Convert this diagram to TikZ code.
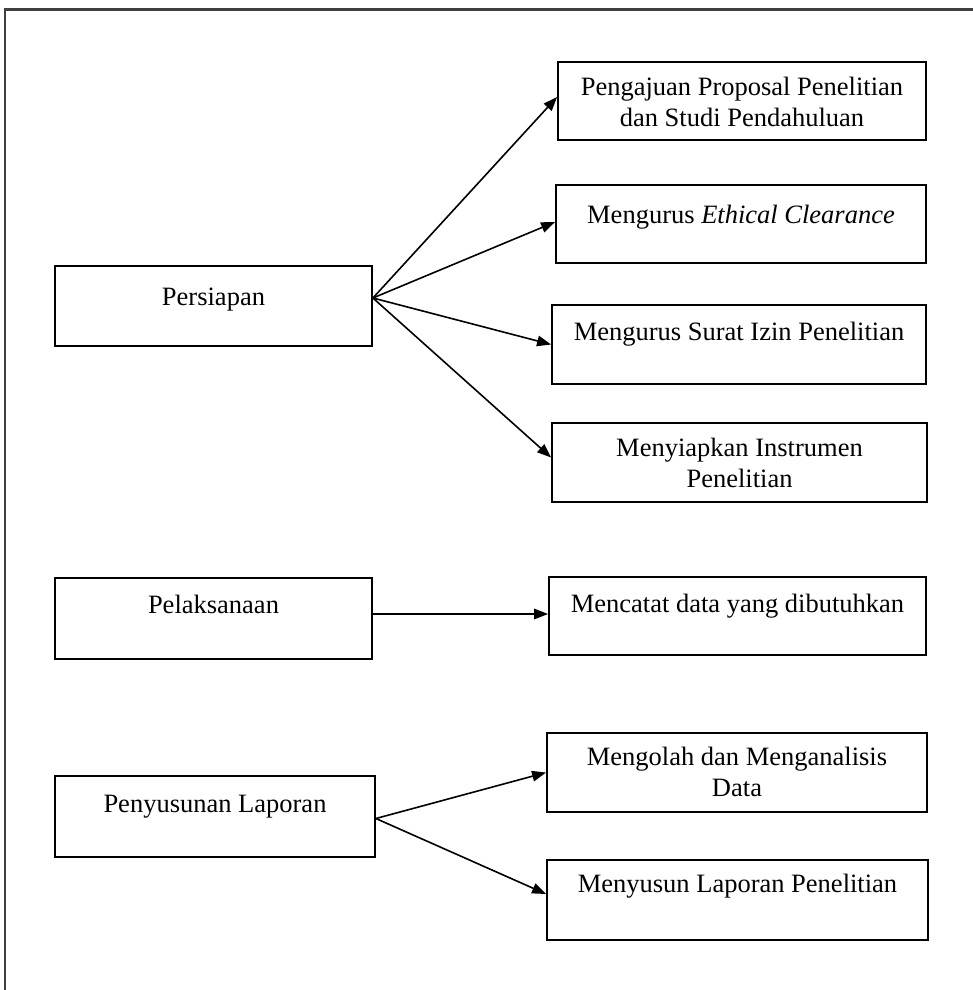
\documentclass[tikz,border=0pt]{standalone}
\usepackage{fontspec}
\setmainfont{Liberation Serif}
\usetikzlibrary{arrows.meta,calc}
\tikzset{
  box/.style={draw, line width=1.8pt, inner sep=0pt, rectangle},
  txt/.style={font=\fontsize{26.5}{31}\selectfont, align=center, anchor=base, inner sep=0pt},
  conn/.style={line width=1.6pt, -{Triangle[length=14pt,width=10.5pt]}},
  frame/.style={line width=2.4pt, draw=black!75}
}
\begin{document}
\begin{tikzpicture}[x=1pt,y=-1pt]
\useasboundingbox (0,0) rectangle (973,990);
\draw[frame] (5,990) -- (5,9.5) -- (973,9.5);

% left boxes
\node[box, minimum width=317pt, minimum height=80pt] (L1) at (213.5,306) {};
\node[box, minimum width=317pt, minimum height=81pt] (L2) at (213.5,618.5) {};
\node[box, minimum width=320pt, minimum height=81pt] (L3) at (215,816.5) {};
\node[txt] (tL1) at (213.5,305) {Persiapan};
\node[txt] (tL2) at (213.5,613) {Pelaksanaan};
\node[txt] (tL3) at (215,812) {Penyusunan Laporan};

% right boxes
\node[box, minimum width=368pt, minimum height=78pt] (p1) at (742,101) {};
\node[box, minimum width=370pt, minimum height=78pt] (p2) at (741,224) {};
\node[box, minimum width=374pt, minimum height=79pt] (p3) at (739,344.5) {};
\node[box, minimum width=375pt, minimum height=79pt] (p4) at (739.5,462.5) {};
\node[box, minimum width=377pt, minimum height=78pt] (m1) at (737.5,616) {};
\node[box, minimum width=380pt, minimum height=79pt] (r1) at (737,772.5) {};
\node[box, minimum width=381pt, minimum height=80pt] (r2) at (737.5,900) {};

\node[txt] (tp1) at (742,126) {Pengajuan Proposal Penelitian\\dan Studi Pendahuluan};
\node[txt] (tp2) at (741,223) {Mengurus \textit{Ethical Clearance}};
\node[txt] (tp3) at (739,340) {Mengurus Surat Izin Penelitian};
\node[txt] (tp4) at (739.5,487) {Menyiapkan Instrumen\\Penelitian};
\node[txt] (tm1) at (737.5,612) {Mencatat data yang dibutuhkan};
\node[txt] (tr1) at (737,796) {Mengolah dan Menganalisis\\Data};
\node[txt] (tr2) at (737.5,892) {Menyusun Laporan Penelitian};

% connectors
\draw[conn] ($(L1.east)+(0,-8)$) -- ($(p1.west)+(0,-4)$);
\draw[conn] ($(L1.east)+(0,-8)$) -- ($(p2.west)+(0,-2)$);
\draw[conn] ($(L1.east)+(0,-8)$) -- ($(p3.west)+(0,0)$);
\draw[conn] ($(L1.east)+(0,-8)$) -- ($(p4.west)+(0,-5)$);
\draw[conn] ($(L2.east)+(0,-4.5)$) -- ($(m1.west)+(0,-2)$);
\draw[conn] ($(L3.east)+(0,2)$) -- ($(r1.west)+(0,0)$);
\draw[conn] ($(L3.east)+(0,2)$) -- ($(r2.west)+(0,-6)$);
\end{tikzpicture}
\end{document}
